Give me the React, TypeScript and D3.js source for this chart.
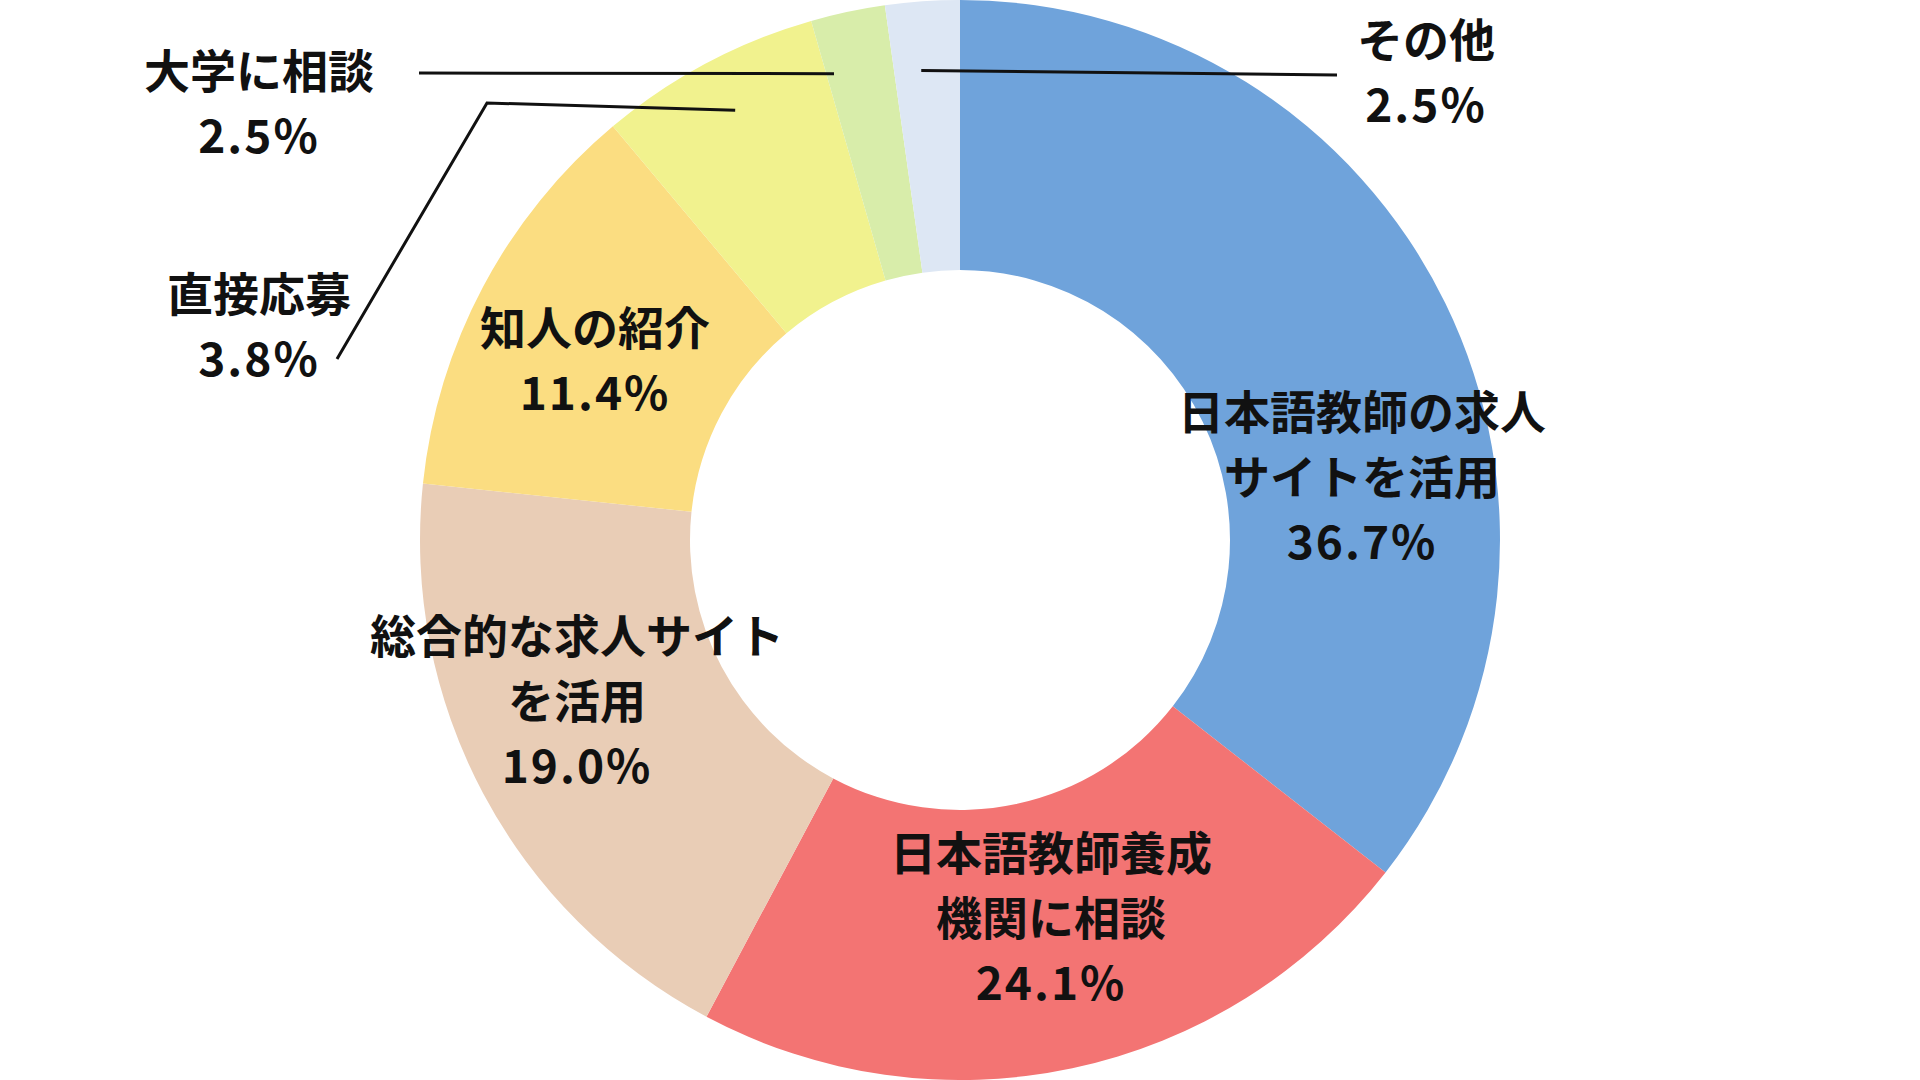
import React from "react";
import * as d3 from "d3";

const categories = [
  "日本語教師の求人サイトを活用",
  "日本語教師養成機関に相談",
  "総合的な求人サイトを活用",
  "知人の紹介",
  "直接応募",
  "大学に相談",
  "その他",
];
// slice sizes as drawn in the picture (angles measured off the ring)
const sliceValues = [16, 10, 8.5, 5.5, 3, 1, 1];
// percentages printed in the labels
const labelPercents = [36.7, 24.1, 19.0, 11.4, 3.8, 2.5, 2.5];
const colors = ["#6FA3DB", "#F37473", "#E9CDB6", "#FBDD81", "#F1F28E", "#D8EDAA", "#DDE7F4"];

const labelLines = [
  ["日本語教師の求人", "サイトを活用"],
  ["日本語教師養成", "機関に相談"],
  ["総合的な求人サイト", "を活用"],
  ["知人の紹介"],
  ["直接応募"],
  ["大学に相談"],
  ["その他"],
];

const W = 1920;
const H = 1080;
const cx = 960;
const cy = 540;
const outerR = 540;
const innerR = 270;
const fontSize = 46;
const lineH = 65;

// label layout: center of text block
const inside = [
  { i: 0, x: 1362, y: 474 },
  { i: 1, x: 1051, y: 915 },
  { i: 2, x: 577, y: 698 },
  { i: 3, x: 595, y: 357 },
];
// outside labels with leader lines
const outside = [
  { i: 4, x: 259, y: 323, t: 0.516, r: 485, path: [[487, 103], [337, 359]] },
  { i: 5, x: 259, y: 100, t: 0.11, r: 483, path: [[419, 73]] },
  { i: 6, x: 1426, y: 69, t: 0.41, r: 471, path: [[1337, 75]] },
];

export default function App() {
  const pie = d3.pie<number>().sort(null).value((d) => d)(sliceValues);
  const arc = d3.arc<d3.PieArcDatum<number>>().innerRadius(innerR).outerRadius(outerR);

  const renderLabel = (i: number, x: number, y: number) => {
    const lines = [...labelLines[i], `${labelPercents[i].toFixed(1)}%`];
    const n = lines.length;
    return lines.map((l, k) => (
      <text
        key={k}
        x={x}
        y={y + (k - (n - 1) / 2) * lineH}
        textAnchor="middle"
        dominantBaseline="central"
        fontFamily="'Noto Sans CJK JP', 'Noto Sans', sans-serif"
        fontWeight={700}
        fontSize={fontSize}
        letterSpacing={k === n - 1 ? 2 : 0}
        fill="#111"
      >
        {l}
      </text>
    ));
  };

  return (
    <svg width={W} height={H} style={{ position: "absolute", left: 0, top: 0, background: "#fff" }}>
      <g transform={`translate(${cx},${cy})`}>
        {pie.map((p, i) => (
          <path key={i} d={arc(p) || ""} fill={colors[i]} />
        ))}
      </g>
      {outside.map((o) => {
        const p = pie[o.i];
        const a = p.startAngle + o.t * (p.endAngle - p.startAngle);
        const ax = cx + o.r * Math.sin(a);
        const ay = cy - o.r * Math.cos(a);
        const pts = [[ax, ay], ...o.path];
        return (
          <polyline
            key={`l${o.i}`}
            points={pts.map((q) => q.join(",")).join(" ")}
            fill="none"
            stroke="#111"
            strokeWidth={3}
          />
        );
      })}
      {inside.map((o) => (
        <g key={`i${o.i}`}>{renderLabel(o.i, o.x, o.y)}</g>
      ))}
      {outside.map((o) => (
        <g key={`o${o.i}`}>{renderLabel(o.i, o.x, o.y)}</g>
      ))}
    </svg>
  );
}
